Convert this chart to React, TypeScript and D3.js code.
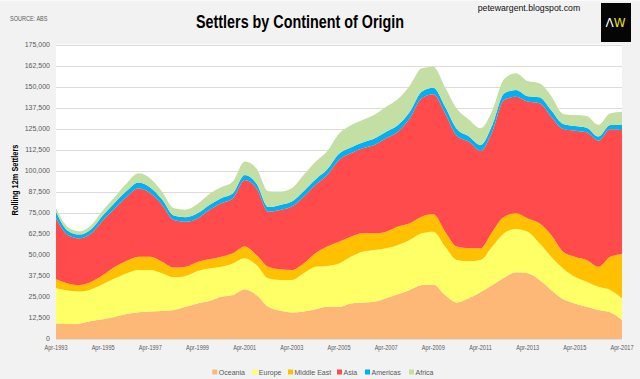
import React from "react";
import * as d3 from "d3";

// ---------- DATA ----------
const dates = [
  "1993-04","1993-10","1994-04","1994-10","1995-04","1995-10","1996-04","1996-10",
  "1997-04","1997-10","1998-04","1998-10","1999-04","1999-10","2000-04","2000-10",
  "2001-04","2001-10","2002-04","2002-10","2003-04","2003-10","2004-04","2004-10",
  "2005-04","2005-10","2006-04","2006-10","2007-04","2007-10","2008-04","2008-10",
  "2009-04","2009-10","2010-04","2010-10","2011-04","2011-10","2012-04","2012-10",
  "2013-04","2013-10","2014-04","2014-10","2015-04","2015-10","2016-04","2016-10",
  "2017-04",
];

const oceania = [
  9300, 8900, 9300, 10700, 11700, 13300, 14900, 15900, 16300, 16700, 17300, 19200,
  21200, 22600, 25200, 26200, 29600, 26200, 19200, 16900, 15700, 16300, 17700, 19200,
  19200, 21200, 21800, 22200, 24200, 26600, 29200, 32100, 32500, 26200, 21800, 24200,
  27800, 32100, 36500, 39700, 39100, 35100, 29200, 23800, 21200, 19200, 17300, 15900,
  11300,
];
const europe = [
  20900, 19900, 18900, 18900, 21000, 22800, 24200, 25200, 24800, 22400, 19400, 18300,
  19300, 19400, 17800, 18800, 18400, 17800, 16900, 18200, 19400, 22800, 25300, 24300,
  25800, 27800, 30200, 30800, 29800, 29400, 29700, 30800, 31400, 28800, 25200, 22100,
  19200, 22900, 26400, 25800, 24800, 21900, 19800, 18200, 15900, 14900, 13800, 13300,
  12900,
];
const middleEast = [
  5300, 4300, 3900, 4500, 5400, 6900, 7500, 7900, 7900, 6900, 5800, 5500,
  5300, 5400, 6000, 6000, 7000, 6000, 6900, 6400, 6000, 5900, 8000, 11500,
  12900, 11900, 10900, 9900, 9900, 10900, 10000, 9900, 10300, 8900, 8000, 7700,
  7000, 8900, 9900, 9300, 7900, 11900, 12900, 10000, 11900, 12900, 11900, 19800,
  26200,
];
const asia = [
  36500, 28800, 27800, 28800, 32700, 34800, 38100, 40700, 37700, 33800, 28300, 26800,
  26000, 29400, 31800, 32700, 39600, 39700, 32800, 35300, 37700, 39700, 40700, 42600,
  48600, 49600, 50600, 52600, 55600, 56500, 62500, 70500, 71500, 70400, 66000, 63500,
  57900, 59500, 69500, 69400, 69500, 71400, 70400, 73000, 75000, 76000, 75000, 75800,
  74000,
];
const americas = [
  3800, 2600, 2300, 2600, 3000, 3500, 3500, 3500, 3500, 3200, 2700, 2700,
  3000, 3000, 3000, 3000, 3000, 2800, 2700, 3000, 3000, 3300, 3300, 3400,
  3800, 3500, 3500, 3800, 3900, 4000, 3900, 3900, 3900, 4000, 4000, 3200,
  3600, 4000, 3900, 4000, 3200, 3600, 3800, 3000, 2800, 2800, 2500, 2600,
  3000,
];
const africa = [
  2000, 2200, 1900, 2400, 3000, 3400, 4500, 5400, 5400, 4700, 4300, 4500,
  5500, 6500, 6500, 7000, 8000, 9000, 9500, 8000, 8000, 9600, 10500, 10800,
  11900, 13200, 13400, 14200, 14900, 15500, 15500, 13900, 12500, 11500, 12000, 10000,
  10000, 8500, 8500, 10000, 9000, 8300, 8500, 6000, 6500, 7000, 7000, 7000,
  7900,
];

const seriesNames = ["Oceania", "Europe", "Middle East", "Asia", "Americas", "Africa"];
const seriesValues = [oceania, europe, middleEast, asia, americas, africa];

const xTickLabels = [
  "Apr-1993","Apr-1995","Apr-1997","Apr-1999","Apr-2001","Apr-2003","Apr-2005",
  "Apr-2007","Apr-2009","Apr-2011","Apr-2013","Apr-2015","Apr-2017",
];
const yTickValues = [
  0, 12500, 25000, 37500, 50000, 62500, 75000, 87500, 100000, 112500, 125000,
  137500, 150000, 162500, 175000,
];

// ---------- STYLE / LAYOUT ----------
const COLORS = ["#FDB877", "#FFFF66", "#FFC000", "#FF4B4B", "#00B0F0", "#C4DFA4"];
const W = 640;
const H = 379;
const M = { left: 56, right: 622, top: 45, bottom: 339 };
const LEGEND_X = [212.3, 252.3, 288, 337, 365, 409];
const FONT = "'Liberation Sans', Arial, Helvetica, sans-serif";
const GREY_TEXT = "#595959";

const parseDate = d3.timeParse("%Y-%m");
const parseTick = d3.timeParse("%b-%Y");

export default function App() {
  const rows = dates.map((d, i) => {
    const row: any = { date: parseDate(d) };
    seriesNames.forEach((n, j) => (row[n] = seriesValues[j][i]));
    return row;
  });

  const x = d3
    .scaleTime()
    .domain([parseDate(dates[0])!, parseDate(dates[dates.length - 1])!])
    .range([M.left, M.right]);
  const y = d3.scaleLinear().domain([0, 175000]).range([M.bottom, M.top]);

  const stack = d3.stack<any>().keys(seriesNames);
  const layers = stack(rows);
  const area = d3
    .area<any>()
    .x((d) => x(d.data.date))
    .y0((d) => y(d[0]))
    .y1((d) => y(d[1]))
    .curve(d3.curveMonotoneX);

  return (
    <svg
      width={W}
      height={H}
      style={{ position: "absolute", left: 0, top: 0, display: "block" }}
      fontFamily={FONT}
    >
      <rect x={0} y={0} width={W} height={H} fill="#f2f2f2" />
      <line x1={0} x2={W} y1={0.5} y2={0.5} stroke="#fafafa" />

      {/* header */}
      <text
        transform={`translate(10,20.5) scale(0.79,1)`}
        fontSize={7}
        fill={GREY_TEXT}
      >
        SOURCE: ABS
      </text>
      <text
        transform={`translate(300,28) scale(0.82,1)`}
        textAnchor="middle"
        fontSize={17.5}
        fontWeight="bold"
        fill="#000"
      >
        Settlers by Continent of Origin
      </text>
      <text
        transform={`translate(477.7,10.5) scale(1.03,1)`}
        fontSize={8.5}
        fill="#111"
      >
        petewargent.blogspot.com
      </text>
      <rect x={601} y={3} width={30} height={39} fill="#050505" />
      <text x={605.5} y={27} fontSize={12} fontFamily="'DejaVu Sans', sans-serif">
        <tspan fill="#ffffff">Λ</tspan>
        <tspan fill="#e0e020">W</tspan>
      </text>

      {/* plot area */}
      <rect
        x={M.left}
        y={M.top - 0.5}
        width={M.right - M.left}
        height={M.bottom - M.top + 0.5}
        fill="#ffffff"
      />
      {yTickValues.map((v) => (
        <line
          key={"g" + v}
          x1={M.left}
          x2={M.right}
          y1={Math.round(y(v)) + 0.5}
          y2={Math.round(y(v)) + 0.5}
          stroke="#dcdcdc"
          strokeWidth={1}
        />
      ))}

      {layers.map((layer, i) => (
        <path key={seriesNames[i]} d={area(layer) || ""} fill={COLORS[i]} />
      ))}

      {/* y axis labels */}
      {yTickValues.map((v) => (
        <text
          key={"y" + v}
          x={50}
          y={y(v)}
          dy="0.35em"
          textAnchor="end"
          fontSize={7}
          fill={GREY_TEXT}
        >
          {d3.format(",")(v)}
        </text>
      ))}

      {/* x axis labels */}
      {xTickLabels.map((lab) => (
        <text
          key={lab}
          transform={`translate(${x(parseTick(lab)!)},350) scale(0.8,1)`}
          textAnchor="middle"
          fontSize={7}
          fill={GREY_TEXT}
        >
          {lab}
        </text>
      ))}

      {/* y title */}
      <text
        transform={`translate(18,180) rotate(-90) scale(0.82,1)`}
        textAnchor="middle"
        fontSize={9}
        fontWeight="bold"
        fill="#000"
      >
        Rolling 12m Settlers
      </text>

      {/* legend */}
      {seriesNames.map((n, i) => (
        <g key={"l" + n}>
          <rect x={LEGEND_X[i]} y={369.5} width={5} height={5} fill={COLORS[i]} />
          <text
            transform={`translate(${LEGEND_X[i] + 6.5},375) scale(0.88,1)`}
            fontSize={8}
            fill={GREY_TEXT}
          >
            {n}
          </text>
        </g>
      ))}
    </svg>
  );
}
